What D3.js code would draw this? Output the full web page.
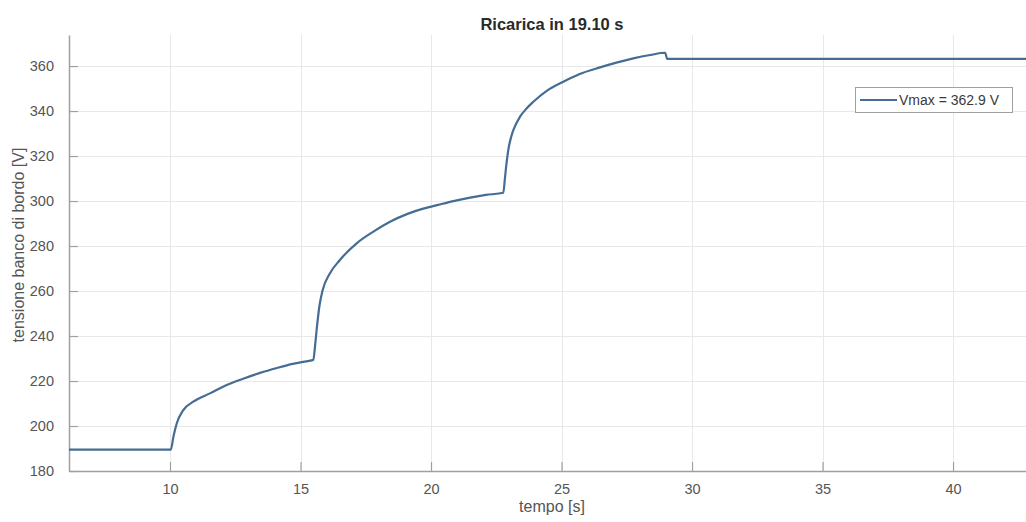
<!DOCTYPE html>
<html>
<head>
<meta charset="utf-8">
<script src="https://cdn.jsdelivr.net/npm/d3@7"></script>
<style>
  html, body { margin: 0; padding: 0; background: #fff; }
  svg { display: block; font-family: "Liberation Sans", Arial, sans-serif; }
</style>
</head>
<body>
<svg id="chart" width="1026" height="522"></svg>
<script>
// ---- data ----
const titleText = "Ricarica in 19.10 s";
const xLabelText = "tempo [s]";
const yLabelText = "tensione banco di bordo [V]";
const legendText = "Vmax = 362.9 V";
const xDomain = [6.13, 43.14];
const yDomain = [180, 373.8];
const xTicks = [10, 15, 20, 25, 30, 35, 40];
const yTicks = [180, 200, 220, 240, 260, 280, 300, 320, 340, 360];
const time = [6.13, 10.03, 10.13, 10.26, 10.51, 10.89, 11.53, 12.17, 12.8, 13.45, 14.1, 14.7, 15.1, 15.49,
  15.56, 15.62, 15.72, 15.85, 16.13, 16.51, 17.15, 17.79, 18.43, 19.1, 19.7, 20.3, 20.9, 21.5,
  22.1, 22.77, 22.83, 22.9, 22.98, 23.07, 23.17, 23.41, 23.65, 23.92, 24.5, 25.2, 25.8, 26.48, 27.1, 27.75,
  28.4, 28.97, 29.05, 43.14];
const voltage = [189.5, 189.5, 195.2, 201.2, 207.1, 210.8, 214.5, 218.2, 221, 223.6, 225.8, 227.6, 228.5, 229.4,
  236, 243, 253, 260.5, 267.9, 273.8, 281.2, 286.4, 290.8, 294.3, 296.6, 298.4, 300.1, 301.5,
  302.7, 303.7, 310, 317.5, 324, 328.5, 332, 337.5, 341, 344.1, 349.5, 353.8, 356.9, 359.4, 361.5, 363.4,
  364.9, 365.9, 363.2, 363.2];

(function () {
// ---- layout ----
const svg = d3.select("#chart");
const pl = 69, pr = 1035, pt = 35, pb = 471;
const x = d3.scaleLinear().domain(xDomain).range([pl, pr]);
const y = d3.scaleLinear().domain(yDomain).range([pb, pt]);

const lineColor = "#456d93";
const axisColor = "#a0a0a0";
const textColor = "#555555";

svg.append("rect").attr("width", 1026).attr("height", 522).attr("fill", "#fff");

// grid
const grid = svg.append("g").attr("stroke", "#e8e8e8").attr("stroke-width", 1);
grid.selectAll(".gx").data(xTicks).enter().append("line")
  .attr("x1", d => Math.round(x(d)) + 0.5).attr("x2", d => Math.round(x(d)) + 0.5)
  .attr("y1", pt).attr("y2", pb);
grid.selectAll(".gy").data(yTicks).enter().append("line")
  .attr("y1", d => Math.round(y(d)) + 0.5).attr("y2", d => Math.round(y(d)) + 0.5)
  .attr("x1", pl).attr("x2", pr);

// axes
const xAxis = d3.axisBottom(x).tickValues(xTicks).tickSizeInner(-9).tickSizeOuter(0).tickPadding(13);
const yAxis = d3.axisLeft(y).tickValues(yTicks).tickSizeInner(-9).tickSizeOuter(0).tickPadding(15);

const gx = svg.append("g").attr("transform", `translate(0,${pb})`).call(xAxis);
const gy = svg.append("g").attr("transform", `translate(${pl},0)`).call(yAxis);
[gx, gy].forEach(g => {
  g.select(".domain").attr("stroke", axisColor).attr("stroke-width", 1.5);
  g.selectAll(".tick line").attr("stroke", axisColor).attr("stroke-width", 1.2);
  g.selectAll(".tick text").attr("fill", textColor).attr("font-size", 14.5)
    .attr("font-family", "'Liberation Sans', Arial, sans-serif");
});

// line
const line = d3.line().x(d => x(d[0])).y(d => y(d[1])).curve(d3.curveMonotoneX);
const pts = time.map((t, i) => [t, voltage[i]]);
svg.append("path").datum(pts)
  .attr("d", line).attr("fill", "none")
  .attr("stroke", lineColor).attr("stroke-width", 2.2).attr("stroke-linejoin", "round");

// title and labels
svg.append("text").attr("x", (pl + pr) / 2).attr("y", 30)
  .attr("text-anchor", "middle").attr("font-weight", "bold").attr("font-size", 16.5)
  .attr("fill", "#2a2a2a").text(titleText);
svg.append("text").attr("x", (pl + pr) / 2).attr("y", 512)
  .attr("text-anchor", "middle").attr("font-size", 16).attr("fill", textColor).text(xLabelText);
svg.append("text").attr("transform", `translate(24,${(pt + pb) / 2 - 8}) rotate(-90)`)
  .attr("text-anchor", "middle").attr("font-size", 16).attr("fill", textColor).text(yLabelText);

// legend
const lg = svg.append("g");
lg.append("rect").attr("x", 855.5).attr("y", 87.5).attr("width", 157).attr("height", 25)
  .attr("fill", "#fff").attr("stroke", "#a0a0a0").attr("stroke-width", 1);
lg.append("line").attr("x1", 860).attr("x2", 897).attr("y1", 100).attr("y2", 100)
  .attr("stroke", lineColor).attr("stroke-width", 2.2);
lg.append("text").attr("x", 899).attr("y", 105).attr("font-size", 14)
  .attr("fill", "#3a3a3a").text(legendText);
})();
</script>
</body>
</html>
